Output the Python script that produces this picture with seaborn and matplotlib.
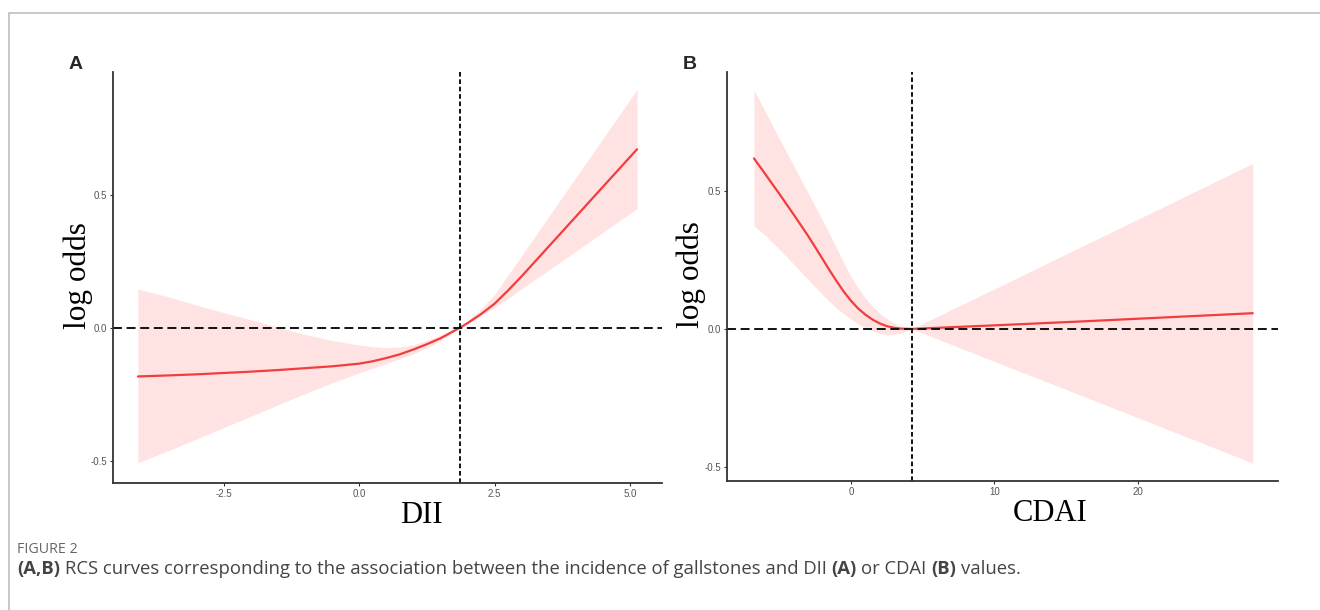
import numpy as np
import pandas as pd
import matplotlib
matplotlib.use("Agg")
import matplotlib.pyplot as plt
import seaborn as sns
from matplotlib.patches import Rectangle

# Panel A: DII restricted cubic spline
dii_x = [-4.08, -3.5, -3.0, -2.5, -2.0, -1.5, -1.0, -0.5, 0.0, 0.25, 0.5, 0.75, 1.0, 1.25, 1.5, 1.86,
         2.0, 2.25, 2.5, 2.75, 3.0, 3.5, 4.0, 4.5, 5.13]
dii_fit = [-0.183, -0.179, -0.175, -0.170, -0.165, -0.159, -0.152, -0.145, -0.135, -0.126, -0.114, -0.100,
           -0.082, -0.062, -0.040, 0.0, 0.017, 0.051, 0.090, 0.140, 0.193, 0.305, 0.417, 0.529, 0.670]
dii_upper = [0.145, 0.115, 0.085, 0.057, 0.030, 0.002, -0.025, -0.048, -0.065, -0.071, -0.075, -0.072,
             -0.064, -0.048, -0.028, 0.0, 0.025, 0.070, 0.125, 0.198, 0.271, 0.417, 0.564, 0.710, 0.895]
dii_lower = [-0.507, -0.460, -0.418, -0.375, -0.333, -0.290, -0.248, -0.207, -0.170, -0.152, -0.135, -0.117,
             -0.098, -0.075, -0.050, 0.0, 0.015, 0.045, 0.075, 0.110, 0.146, 0.216, 0.287, 0.358, 0.447]
dii_knot = 1.86

# Panel B: CDAI restricted cubic spline
cdai_x = [-6.76, -6.0, -5.0, -4.0, -3.0, -2.5, -2.0, -1.5, -1.0, -0.5, 0.0, 0.5, 1.0, 1.5, 2.0, 2.5, 3.0,
          3.5, 4.23, 6.0, 10.0, 16.0, 22.0, 28.0]
cdai_fit = [0.618, 0.563, 0.490, 0.415, 0.338, 0.297, 0.255, 0.213, 0.173, 0.135, 0.102, 0.074, 0.052,
            0.034, 0.020, 0.010, 0.004, 0.001, 0.0, 0.004, 0.013, 0.027, 0.042, 0.057]
cdai_upper = [0.866, 0.790, 0.690, 0.592, 0.494, 0.445, 0.395, 0.345, 0.293, 0.240, 0.190, 0.148, 0.112,
              0.082, 0.057, 0.037, 0.021, 0.009, 0.0, 0.045, 0.145, 0.297, 0.448, 0.600]
cdai_lower = [0.374, 0.340, 0.290, 0.235, 0.180, 0.152, 0.125, 0.099, 0.075, 0.055, 0.036, 0.018, 0.004,
              -0.008, -0.016, -0.021, -0.021, -0.014, 0.0, -0.036, -0.118, -0.240, -0.363, -0.486]
cdai_knot = 4.23

dii_xticks = [-2.5, 0.0, 2.5, 5.0]
cdai_xticks = [0, 10, 20]
yticks = [-0.5, 0.0, 0.5]

sns.set_style("ticks")
plt.rcParams['font.family'] = ['Liberation Sans', 'DejaVu Sans']
plt.rcParams['axes.unicode_minus'] = False

RED = "#F23D3D"

fig = plt.figure(figsize=(13.2, 6.1), dpi=100)
ax_a = fig.add_axes([113 / 1320, 1 - 483 / 610, 549 / 1320, 411 / 610])
ax_b = fig.add_axes([727 / 1320, 1 - 481 / 610, 551 / 1320, 409 / 610])


def draw_panel(ax, x, fit, lo, hi, knot, xlabel, xticks, xlim, ylim, xlab_pos, ylab_pos):
    df = pd.DataFrame({"x": x, "fit": fit, "lo": lo, "hi": hi})
    ax.fill_between(df["x"], df["lo"], df["hi"], color="#FF5A5A", alpha=0.17, lw=0)
    sns.lineplot(data=df, x="x", y="fit", ax=ax, color=RED, lw=1.6, sort=False)
    ax.axhline(0, color="#111111", lw=1.4, dashes=(4.6, 2.4))
    ax.axvline(knot, color="#111111", lw=1.4, dashes=(2.4, 1.4))
    ax.set_xlim(*xlim)
    ax.set_ylim(*ylim)
    ax.set_xticks(xticks)
    ax.set_yticks(yticks)
    ax.set_xticklabels([f"{t:g}" if isinstance(t, int) else f"{t:.1f}" for t in xticks])
    ax.set_yticklabels([f"{t:.1f}" for t in yticks])
    ax.tick_params(labelsize=7, labelcolor="#555555", color="#333333", length=2.5, width=0.8, pad=2)
    sns.despine(ax=ax)
    for s in ["left", "bottom"]:
        ax.spines[s].set_color("#333333")
        ax.spines[s].set_linewidth(1.3)
    ax.set_xlabel(xlabel, family="Liberation Serif", fontsize=22, color="black")
    ax.set_ylabel("log odds", family="Liberation Serif", fontsize=22.5, color="black")
    ax.xaxis.set_label_coords(xlab_pos, -0.045)
    ax.yaxis.set_label_coords(ylab_pos, 0.505)


draw_panel(ax_a, dii_x, dii_fit, dii_lower, dii_upper, dii_knot, "DII", dii_xticks,
           (-4.54, 5.59), (-0.583, 0.96), 0.561, -0.037)
draw_panel(ax_b, cdai_x, cdai_fit, cdai_lower, cdai_upper, cdai_knot, "CDAI", cdai_xticks,
           (-8.64, 29.76), (-0.551, 0.931), 0.586, -0.038)

fig.text(69 / 1320, 1 - 69 / 610, "A", fontsize=14, weight="bold", va="baseline")
fig.text(683 / 1320, 1 - 69 / 610, "B", fontsize=14, weight="bold", va="baseline")

# frame around figure (top and left only visible)
fig.patches.append(Rectangle((9 / 1320, -0.1), 1.2, 1 - 13 / 610 + 0.1, transform=fig.transFigure,
                             fill=False, ec="#BDBDBD", lw=1.2))

fig.text(17 / 1320, 1 - 553 / 610, "FIGURE 2", family="Open Sans", fontsize=10.3, color="#666666",
         va="baseline")

# caption with bold panel references, pieces laid out one after another
cap_font = dict(family="Open Sans", fontsize=13.3, color="#444444", va="baseline")
pieces = [("(A,B)", "bold"),
          ("RCS curves corresponding to the association between the incidence of gallstones and DII", "normal"),
          ("(A)", "bold"), ("or CDAI", "normal"), ("(B)", "bold"), ("values.", "normal")]
renderer = fig.canvas.get_renderer()
probe = fig.text(0, 0, "x x", **cap_font)
probe2 = fig.text(0, 0, "xx", **cap_font)
space_px = probe.get_window_extent(renderer).width - probe2.get_window_extent(renderer).width
probe.remove()
probe2.remove()

cap_y = 1 - 574 / 610
x_px = 17
for i, (txt, w) in enumerate(pieces):
    t = fig.text(x_px / 1320, cap_y, txt, weight=w, **cap_font)
    x_px = t.get_window_extent(renderer).x1 + space_px

fig.savefig("out.png", dpi=100)
